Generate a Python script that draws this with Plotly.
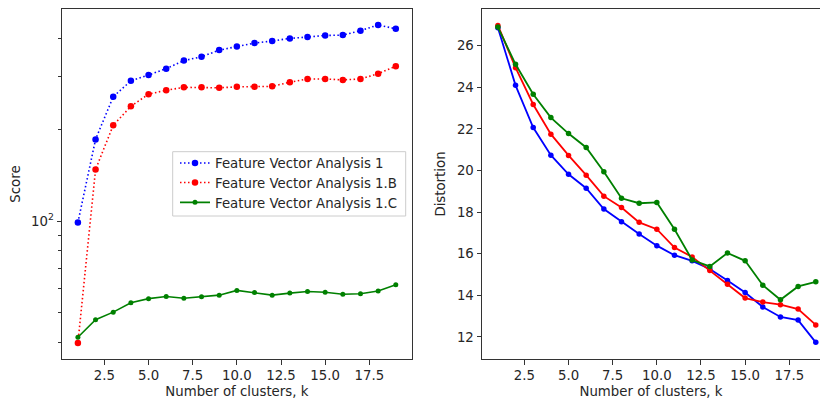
import plotly.graph_objects as go

k = list(range(1, 20))

score_a = [99, 186, 257, 290, 303, 318, 338, 348, 366, 376, 386, 392, 400, 404, 409, 410, 424, 443, 430]
score_b = [39.7, 148, 207, 239, 262, 270, 276, 276, 275, 277, 277, 278, 287, 294, 294, 292, 294, 306, 324]
score_c = [41.5, 47.4, 50.2, 53.9, 55.6, 56.5, 55.8, 56.4, 57.1, 59.2, 58.3, 57.1, 58.0, 58.7, 58.4, 57.5, 57.7, 58.9, 61.8]

dist_a = [26.87, 24.10, 22.07, 20.74, 19.82, 19.15, 18.15, 17.54, 16.95, 16.39, 15.93, 15.66, 15.27, 14.71, 14.14, 13.44, 12.96, 12.81, 11.74]
dist_b = [26.98, 24.95, 23.18, 21.75, 20.73, 19.78, 18.77, 18.22, 17.51, 17.18, 16.30, 15.85, 15.19, 14.54, 13.87, 13.68, 13.55, 13.34, 12.58]
dist_c = [26.90, 25.11, 23.67, 22.55, 21.78, 21.11, 19.94, 18.67, 18.43, 18.47, 17.18, 15.70, 15.39, 16.04, 15.66, 14.49, 13.79, 14.43, 14.65]

names = ["Feature Vector Analysis 1", "Feature Vector Analysis 1.B", "Feature Vector Analysis 1.C"]
xticks = [2.5, 5.0, 7.5, 10.0, 12.5, 15.0, 17.5]
xticklabels = ["2.5", "5.0", "7.5", "10.0", "12.5", "15.0", "17.5"]
left_major = [100]
left_major_labels = ["10<sup>2</sup>"]
left_minor = [40, 50, 60, 70, 80, 90, 200, 300, 400]
right_ticks = [12, 14, 16, 18, 20, 22, 24, 26]

W, H = 820, 401
FONT = "DejaVu Sans"
FS = 13.3
TXT = "#262626"
SP = "#333333"

fig = go.Figure()
styles = [
    ("#0000ff", "1.5px,2.5px", 6.5),
    ("#ff0000", "1.5px,2.5px", 6.5),
    ("#008000", "solid", 5),
]
legend_ids = ["legend", "legend2", "legend3"]
for ys, nm, (c, d, ms), lg in zip([score_a, score_b, score_c], names, styles, legend_ids):
    fig.add_trace(go.Scatter(x=k, y=ys, name=nm, mode="lines+markers",
                             line=dict(color=c, width=1.6, dash=d),
                             marker=dict(color=c, size=ms),
                             xaxis="x", yaxis="y", legend=lg))
for ys, nm, c in zip([dist_a, dist_b, dist_c], names, ["#0000ff", "#ff0000", "#008000"]):
    fig.add_trace(go.Scatter(x=k, y=ys, name=nm, mode="lines+markers",
                             line=dict(color=c, width=1.8),
                             marker=dict(color=c, size=5.5),
                             xaxis="x2", yaxis="y2", showlegend=False))

ydom = [1 - 359 / H, 1 - 9 / H]
axcommon = dict(showline=True, linecolor=SP, linewidth=1, showgrid=False, zeroline=False,
                ticks="outside", ticklen=4.5, tickwidth=1, tickcolor=SP,
                tickfont=dict(family=FONT, size=FS, color=TXT))

def leg(ypx):
    return dict(x=175 / W, y=1 - ypx / H, xanchor="left", yanchor="middle",
                bgcolor="rgba(0,0,0,0)", borderwidth=0,
                font=dict(family=FONT, size=FS, color=TXT))

fig.update_layout(
    width=W, height=H,
    margin=dict(l=0, r=0, t=0, b=0),
    paper_bgcolor="white", plot_bgcolor="white",
    font=dict(family=FONT, size=FS, color=TXT),
    xaxis=dict(domain=[62 / W, 411.7 / W], range=[0.1, 19.9], tickvals=xticks, ticktext=xticklabels,
               mirror=True, anchor="y",
               title=dict(text="Number of clusters, k", font=dict(size=FS, color=TXT), standoff=4),
               **axcommon),
    yaxis=dict(domain=ydom, type="log", range=[1.5464, 2.6988], tickvals=left_major,
               ticktext=left_major_labels, mirror=True, anchor="x",
               minor=dict(tickvals=left_minor, ticks="outside", ticklen=2.7, tickcolor=SP, tickwidth=0.8, showgrid=False),
               title=dict(text="Score", font=dict(size=FS, color=TXT), standoff=7),
               **axcommon),
    xaxis2=dict(domain=[482 / W, 1.0], range=[0.1, 0.1 + 338 / 17.66], tickvals=xticks, ticktext=xticklabels,
                mirror=True, anchor="y2",
                title=dict(text="Number of clusters, k", font=dict(size=FS, color=TXT), standoff=4),
                **axcommon),
    yaxis2=dict(domain=ydom, range=[10.94, 27.77], tickvals=right_ticks, mirror=False, anchor="x2",
                title=dict(text="Distortion", font=dict(size=FS, color=TXT), standoff=8),
                **axcommon),
    legend=leg(163.3),
    legend2=leg(182.9),
    legend3=leg(202.7),
    shapes=[dict(type="rect", xref="paper", yref="paper",
                 x0=172.7 / W, x1=405.7 / W, y0=1 - 216 / H, y1=1 - 151.7 / H,
                 line=dict(color="#cccccc", width=1), fillcolor="rgba(255,255,255,0.8)", layer="above")],
    showlegend=True,
)

fig.write_html("out.html")
